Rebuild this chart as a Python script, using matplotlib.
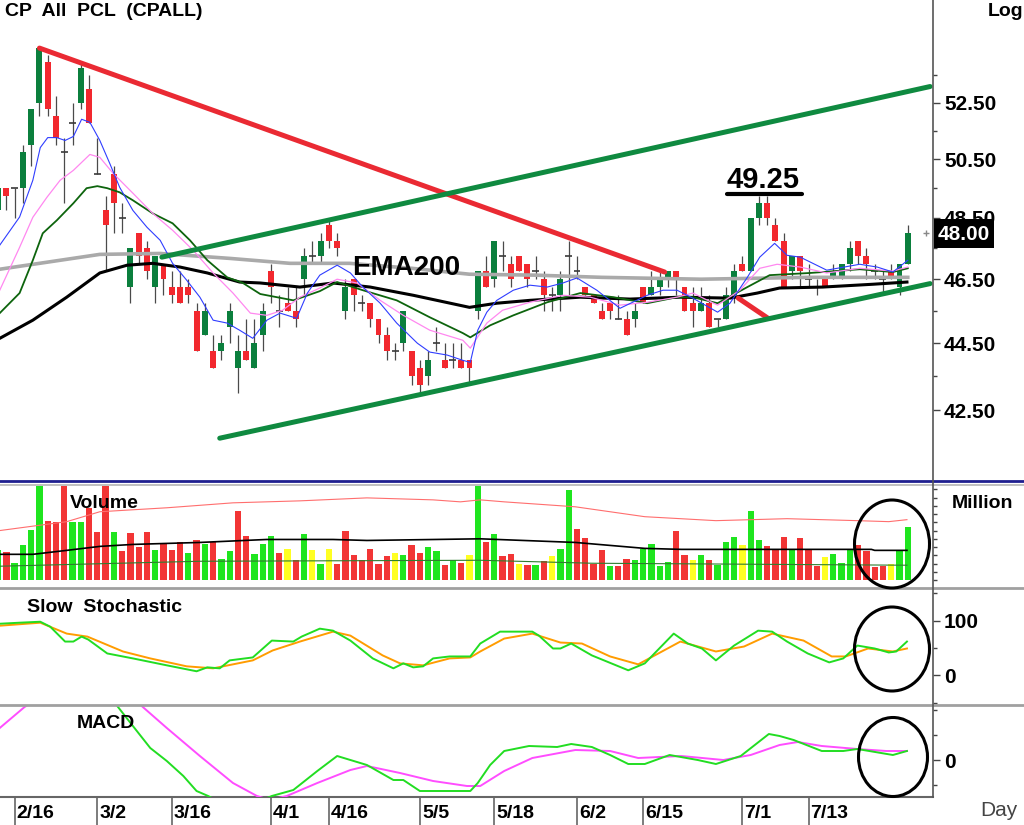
import numpy as np
import matplotlib
matplotlib.use("Agg")
import matplotlib.pyplot as plt
from matplotlib.patches import Ellipse, Rectangle
from matplotlib.lines import Line2D
from matplotlib.transforms import blended_transform_factory
from matplotlib.ticker import FixedLocator, NullFormatter, FuncFormatter

plt.rcParams["font.family"] = ["Liberation Sans", "DejaVu Sans"]
plt.rcParams["font.weight"] = "bold"

# ---- daily candles (bar index 0..110) ----
OPEN = [48.75, 49.50, 49.50, 49.50, 51.00, 52.50, 54.00, 52.00, 50.75, 51.75,
        52.50, 53.00, 50.00, 48.75, 50.00, 48.50, 46.25, 48.00, 47.50, 46.25,
        47.00, 46.25, 46.25, 46.25, 45.50, 44.75, 44.25, 44.25, 45.00, 43.75,
        44.25, 43.75, 44.75, 46.75, 45.50, 45.75, 45.50, 46.50, 47.25, 47.25,
        48.25, 47.75, 45.50, 46.50, 45.75, 45.75, 45.25, 44.75, 44.25, 44.50,
        44.25, 43.75, 43.50, 44.50, 44.00, 44.00, 44.00, 44.00, 45.50, 46.75,
        46.50, 47.25, 47.00, 47.25, 47.00, 46.75, 46.50, 46.00, 46.00, 47.25,
        46.75, 46.25, 46.00, 45.50, 45.75, 45.25, 45.25, 45.25, 46.25, 46.00,
        46.25, 46.50, 46.75, 46.25, 45.75, 45.50, 45.75, 45.25, 45.25, 46.00,
        47.00, 46.75, 48.50, 49.00, 48.25, 47.75, 46.75, 47.25, 46.50, 46.25,
        46.50, 46.50, 46.50, 47.00, 47.75, 47.25, 46.75, 46.50, 46.75, 46.25,
        47.00]
HIGH = [49.50, 49.50, 49.50, 51.00, 52.25, 54.50, 54.25, 52.75, 51.25, 52.50,
        54.00, 53.50, 51.25, 49.25, 50.25, 49.00, 47.50, 48.00, 47.75, 47.25,
        47.00, 46.75, 46.75, 46.50, 45.75, 45.75, 44.75, 44.75, 45.75, 44.75,
        45.25, 45.25, 45.75, 47.00, 46.00, 46.25, 46.25, 47.50, 47.75, 48.00,
        48.50, 48.00, 46.50, 46.50, 46.00, 45.75, 45.25, 45.00, 44.50, 45.50,
        44.25, 44.00, 44.25, 45.00, 44.50, 44.50, 44.50, 44.00, 46.75, 47.25,
        47.75, 47.75, 47.25, 47.25, 47.00, 47.25, 46.75, 46.25, 46.75, 47.75,
        47.25, 46.25, 46.00, 45.75, 45.75, 46.00, 45.50, 45.75, 46.25, 46.75,
        46.75, 46.75, 46.75, 46.25, 46.25, 46.25, 46.00, 45.25, 46.25, 47.00,
        47.25, 48.50, 49.25, 49.25, 48.50, 48.00, 47.25, 47.25, 47.00, 46.50,
        46.50, 47.00, 47.00, 47.75, 47.75, 47.50, 47.00, 46.75, 47.00, 47.00,
        48.25]
LOW = [48.75, 48.75, 48.50, 49.00, 50.25, 52.00, 52.00, 51.00, 49.00, 51.00,
       52.25, 51.75, 50.00, 46.75, 48.00, 48.00, 45.75, 47.00, 46.50, 45.75,
       46.00, 45.75, 45.75, 45.75, 44.25, 44.75, 43.75, 44.00, 44.50, 43.00,
       44.00, 43.75, 44.25, 45.75, 45.00, 45.50, 45.00, 46.00, 47.00, 47.00,
       47.50, 47.25, 45.25, 45.50, 45.50, 45.00, 44.50, 44.00, 44.00, 44.25,
       43.25, 43.00, 43.25, 44.25, 43.75, 43.75, 43.75, 43.25, 45.25, 46.25,
       46.25, 46.75, 46.25, 46.75, 46.25, 46.50, 45.50, 45.50, 45.50, 46.00,
       46.50, 46.00, 45.75, 45.25, 45.25, 45.25, 44.75, 45.00, 45.75, 46.00,
       46.00, 46.25, 46.00, 45.50, 45.00, 45.50, 45.00, 45.00, 45.25, 45.75,
       46.75, 46.75, 48.25, 48.25, 47.75, 46.25, 46.50, 46.25, 46.25, 46.00,
       46.25, 46.50, 46.50, 46.75, 47.00, 46.50, 46.50, 46.00, 46.50, 46.00,
       47.00]
CLOSE = [49.50, 49.25, 49.50, 50.75, 52.25, 54.50, 52.25, 51.25, 50.75, 51.75,
         53.75, 51.75, 50.00, 48.25, 49.00, 48.50, 47.50, 47.25, 46.75, 47.25,
         46.50, 46.00, 45.75, 46.00, 44.25, 45.50, 43.75, 44.50, 45.50, 44.25,
         44.00, 44.50, 45.50, 46.25, 45.50, 45.50, 45.25, 47.25, 47.25, 47.75,
         47.75, 47.50, 46.25, 46.00, 45.75, 45.25, 44.75, 44.25, 44.25, 45.50,
         43.50, 43.25, 44.00, 44.50, 43.75, 44.00, 43.75, 43.75, 46.75, 46.25,
         47.75, 47.25, 46.50, 46.75, 46.50, 46.75, 46.00, 46.00, 46.50, 47.25,
         46.75, 46.00, 45.75, 45.25, 45.50, 45.25, 44.75, 45.50, 45.75, 46.25,
         46.50, 46.75, 46.50, 45.50, 45.50, 45.75, 45.00, 45.25, 46.00, 46.75,
         46.75, 48.50, 49.00, 48.50, 47.75, 46.25, 47.25, 46.75, 46.50, 46.25,
         46.25, 46.75, 47.00, 47.50, 47.25, 47.00, 46.75, 46.50, 46.50, 47.00,
         48.00]

# ---- moving averages (bar index, price) ----
EMA_FAST_X = [0.2, 2.6, 4.2, 5.1, 6.0, 7.1, 8.1, 9.1, 10.1, 11.1, 12.3, 13.5, 14.7,
              16.3, 18.0, 19.6, 21.1, 22.8, 24.4, 26.0, 27.7, 29.2, 30.8, 32.5,
              34.1, 36.1, 37.4, 38.9, 41.0, 42.6, 44.1, 46.2, 48.2, 50.7, 52.2,
              54.3, 56.2, 57.1, 58.0, 59.1, 60.3, 62.3, 64.3, 66.4, 68.3, 70.0,
              72.4, 75.2, 78.5, 80.4, 82.1, 84.0, 87.0, 88.5, 90.6, 92.1, 93.9,
              95.4, 97.0, 100.2, 104.2, 106.3, 108.2, 110.0]
EMA_FAST = [47.60, 48.53, 49.77, 50.90, 51.25, 51.25, 51.15, 51.29, 51.90, 51.79,
            51.15, 50.35, 49.53, 48.75, 48.19, 47.76, 47.01, 46.47, 45.93, 45.21,
            45.12, 44.90, 44.65, 45.21, 45.43, 45.27, 46.06, 46.63, 46.95, 46.70,
            46.25, 45.74, 45.12, 44.50, 44.23, 44.14, 43.98, 43.92, 44.90, 45.46,
            45.83, 46.15, 46.31, 46.25, 46.38, 46.54, 46.15, 45.58, 45.99, 46.15,
            46.15, 45.90, 45.46, 45.74, 46.56, 47.21, 47.66, 47.27, 47.21, 46.79,
            46.98, 46.89, 46.73, 47.11]
EMA_MID_X = [0.2, 2.6, 4.2, 5.9, 7.5, 9.1, 11.1, 12.3, 13.9, 16.3, 18.7, 21.1, 23.6,
             26.0, 28.4, 30.5, 32.5, 34.4, 36.5, 38.9, 41.0, 43.4, 46.2, 49.0, 52.2,
             56.2, 57.1, 59.1, 61.0, 64.3, 68.3, 71.6, 75.2, 78.5, 82.1, 84.0, 87.0,
             89.7, 92.1, 94.2, 97.0, 100.2, 104.2, 108.2, 110.0]
EMA_MID = [46.15, 47.53, 48.52, 49.19, 49.77, 50.11, 50.66, 50.56, 50.01, 49.33,
           48.65, 48.09, 47.43, 46.70, 46.06, 45.43, 45.36, 45.52, 45.93, 46.22,
           46.50, 46.38, 45.83, 45.36, 44.90, 44.59, 44.35, 45.12, 45.52, 45.77,
           45.99, 45.93, 45.68, 45.77, 45.93, 46.06, 45.68, 46.15, 46.85, 46.98,
           46.89, 46.70, 46.85, 46.76, 46.89]
EMA_SLOW_X = [0.2, 2.6, 4.2, 5.4, 7.1, 9.1, 10.7, 12.0, 13.2, 14.7, 16.3, 18.7, 21.1,
              23.2, 25.3, 27.7, 29.6, 31.7, 35.7, 38.9, 41.0, 44.1, 48.2, 52.2, 56.2,
              57.1, 59.5, 62.3, 66.4, 70.4, 74.4, 78.5, 82.1, 84.0, 87.0, 90.6, 93.3,
              98.2, 104.2, 108.2, 110.0]
EMA_SLOW = [45.43, 46.06, 47.11, 47.99, 48.42, 48.99, 49.50, 49.57, 49.50, 49.36,
            49.09, 48.65, 48.32, 47.76, 47.11, 46.56, 46.38, 46.03, 45.83, 46.12,
            46.41, 46.15, 45.83, 45.30, 44.81, 44.68, 45.05, 45.36, 45.77, 46.06,
            45.93, 45.74, 45.93, 45.93, 45.74, 46.25, 46.63, 46.70, 46.82, 46.73,
            46.85]
EMA_LONG_X = [0.2, 4.2, 8.3, 12.3, 15.6, 18.7, 22.0, 25.3, 29.2, 31.7, 36.5, 40.5,
              45.0, 50.2, 57.0, 60.3, 64.3, 70.4, 76.4, 82.5, 88.5, 91.8, 94.5, 99.7,
              105.8, 109.9]
EMA_LONG = [44.65, 45.21, 45.93, 46.70, 46.95, 47.01, 46.89, 46.70, 46.41, 46.38,
            46.25, 46.38, 46.25, 45.99, 45.61, 45.74, 45.83, 45.93, 45.87, 45.93,
            45.90, 46.06, 46.22, 46.25, 46.34, 46.41]
EMA200_X = [0.2, 12.3, 19.6, 28.0, 35.3, 42.5, 50.0, 57.0, 65.0, 73.0, 85.0, 98.0, 110.0]
EMA200 = [46.82, 47.30, 47.33, 47.17, 47.01, 47.01, 46.85, 46.66, 46.63, 46.56,
          46.50, 46.56, 46.56]

# ---- hand-drawn trend lines (bar index, price) ----
RED_TREND = [(5.0, 54.50), (80.6, 46.73)]
RED_TREND_2 = [(89.5, 45.90), (93.1, 45.27)]
GREEN_UPPER = [(19.8, 47.21), (112.7, 53.08)]
GREEN_LOWER = [(26.8, 41.69), (112.7, 46.36)]

# ---- volume (million) ----
VOLUME = [9.0, 8.5, 5.3, 10.5, 15.3, 31.0, 18.0, 17.7, 30.0, 17.5,
          17.5, 21.7, 14.7, 29.0, 14.7, 8.7, 14.2, 10.0, 14.7, 9.0,
          11.0, 9.2, 11.5, 8.3, 12.0, 11.0, 11.5, 6.5, 8.7, 20.8,
          13.5, 8.0, 11.0, 13.3, 8.3, 9.5, 6.0, 14.0, 9.0, 5.0,
          9.5, 5.0, 15.0, 7.5, 6.0, 9.5, 5.0, 7.3, 8.3, 7.7,
          10.5, 8.3, 10.0, 8.7, 4.5, 6.0, 5.3, 7.5, 30.0, 11.5,
          14.0, 7.3, 8.0, 4.8, 4.5, 4.5, 5.7, 7.3, 9.5, 27.2,
          15.5, 12.7, 5.0, 9.0, 4.3, 4.3, 6.5, 6.0, 9.3, 10.8,
          4.3, 5.5, 15.0, 7.7, 6.0, 7.7, 6.2, 4.5, 11.5, 13.0,
          10.5, 20.8, 12.2, 10.3, 9.0, 13.0, 9.0, 12.7, 9.0, 4.3,
          7.0, 8.0, 5.3, 9.0, 10.7, 8.7, 4.0, 4.3, 5.0, 8.7, 16.0]
VOL_DIR = ("grggggrrrg" "grrrgrrrrg" "rrrgrgrggr" "rgggryrgyg" "yrrrrrrryg"
           "rrggrgrygr" "grryrgrygg" "rrrrgrrggg" "ggrrygrggg" "yggrrrgrrr"
           "ygggrrrrygg")
VOL_HI_X = [0.2, 8.3, 12.3, 20.4, 28.4, 36.5, 44.6, 52.6, 55.9, 58.3, 61.2, 69.8,
            78.2, 86.8, 95.4, 103.9, 107.7, 109.9]
VOL_HI = [15.0, 17.7, 20.7, 21.9, 23.4, 24.0, 24.9, 24.3, 23.7, 24.3, 23.7, 22.2,
          19.2, 18.0, 18.6, 18.0, 17.7, 18.3]
VOL_AVG_X = [0.2, 4.2, 8.3, 12.3, 16.3, 24.4, 32.5, 40.5, 44.6, 58.3, 69.8, 78.2,
             82.6, 105.6, 106.0, 109.9]
VOL_AVG = [7.8, 7.8, 9.0, 10.2, 10.8, 11.4, 12.3, 12.3, 12.0, 12.5, 11.4, 9.6,
           9.3, 9.3, 9.0, 9.0]
VOL_LO_X = [0.2, 24.4, 58.3, 71.8, 109.9]
VOL_LO = [4.2, 5.7, 6.0, 5.1, 4.5]

# ---- slow stochastic ----
STO_K_X = [0.2, 2.6, 5.1, 6.3, 8.1, 9.1, 10.1, 10.9, 13.2, 16.3, 20.4, 24.0, 25.3,
           26.8, 28.0, 30.8, 33.1, 35.7, 36.7, 38.9, 40.5, 42.6, 45.3, 47.8, 49.0,
           50.2, 51.4, 52.6, 54.6, 57.1, 58.3, 60.7, 64.6, 65.4, 67.1, 68.0, 69.3,
           71.8, 76.2, 78.2, 81.7, 83.4, 85.1, 86.8, 89.0, 91.9, 93.6, 95.4, 97.9,
           100.5, 102.2, 103.9, 106.0, 107.7, 108.6, 109.9]
STO_K = [94.5, 96.4, 98.2, 89.1, 61.8, 61.8, 70.9, 65.5, 40.0, 30.9, 18.2, 7.3, 14.5,
         12.7, 27.3, 32.7, 63.6, 61.8, 70.9, 85.5, 81.8, 63.6, 30.9, 12.7, 21.8,
         14.5, 16.4, 30.9, 34.5, 34.5, 58.2, 80.0, 80.0, 72.7, 49.1, 49.1, 58.2,
         36.4, 9.1, 21.8, 76.4, 58.2, 49.1, 27.3, 54.5, 81.8, 80.0, 61.8, 40.0,
         23.6, 30.9, 54.5, 49.1, 41.8, 43.6, 61.8]
STO_D_X = [0.2, 5.1, 8.3, 10.8, 15.1, 18.4, 22.8, 26.0, 30.8, 33.2, 36.5, 40.5, 42.6,
           46.5, 48.6, 51.4, 54.6, 57.1, 58.3, 61.2, 64.6, 68.0, 70.6, 74.0, 77.4,
           82.5, 86.8, 90.2, 93.6, 97.4, 100.8, 102.5, 105.2, 108.2, 109.9]
STO_D = [90.9, 96.4, 76.4, 70.9, 43.6, 30.9, 16.4, 12.7, 27.3, 45.5, 61.8, 80.0, 72.7,
         36.4, 21.8, 18.2, 30.9, 32.7, 43.6, 67.3, 76.4, 60.0, 58.2, 34.5, 20.0,
         61.8, 43.6, 52.7, 76.4, 63.6, 34.5, 34.5, 49.1, 43.6, 49.1]

# ---- MACD ----
MACD_X = [0.2, 5.1, 9.9, 12.3, 14.5, 16.3, 18.4, 20.4, 22.4, 24.0, 25.4, 28.0, 30.5,
          33.1, 35.7, 38.6, 41.0, 44.6, 47.8, 49.0, 51.0, 57.1, 58.0, 59.5, 61.2,
          64.2, 67.6, 69.3, 71.8, 74.0, 76.2, 78.2, 81.2, 84.6, 86.8, 89.8, 93.2,
          94.5, 96.2, 99.6, 102.2, 103.9, 108.2, 109.9]
MACD = [1.3, 1.8, 1.9, 1.5, 1.06, 0.68, 0.24, -0.02, -0.32, -0.62, -0.72, -0.95, -0.9,
        -0.72, -0.60, -0.22, 0.08, -0.10, -0.40, -0.40, -0.62, -0.62, -0.46, -0.10, 0.18,
        0.28, 0.26, 0.32, 0.26, 0.10, -0.08, -0.08, 0.10, 0.0, -0.08, 0.08, 0.52,
        0.48, 0.40, 0.18, 0.18, 0.22, 0.10, 0.18]
SIGNAL_X = [0.2, 3.2, 7.5, 12.3, 15.9, 17.5, 20.4, 24.4, 28.4, 31.3, 32.9, 34.9, 38.6,
            42.6, 44.6, 48.6, 52.6, 56.7, 58.3, 61.2, 64.6, 69.8, 74.0, 77.4, 82.6,
            87.7, 91.0, 94.5, 96.7, 99.6, 103.9, 107.4, 109.9]
SIGNAL = [0.64, 1.06, 1.5, 1.6, 1.3, 1.06, 0.64, 0.08, -0.46, -0.72, -0.8, -0.72, -0.46,
          -0.20, -0.12, -0.26, -0.42, -0.52, -0.52, -0.22, 0.04, 0.20, 0.18, 0.04, 0.08,
          0.0, 0.10, 0.30, 0.36, 0.28, 0.22, 0.18, 0.18]

# ---- axis labels ----
DATE_IDX = [2, 12, 21, 33, 40, 51, 60, 70, 78, 90, 98]
DATE_LABELS = ["2/16", "3/2", "3/16", "4/1", "4/16", "5/5", "5/18", "6/2", "6/15", "7/1", "7/13"]
PRICE_TICKS = [42.5, 44.5, 46.5, 48.5, 50.5, 52.5]
PRICE_MINOR = [43.5, 45.5, 47.5, 49.5, 51.5, 53.5]
LAST_PRICE = 48.00

# ---------------------------------------------------------------
W, H = 1024, 825
X_RIGHT = 933          # pixel x of the right axis line


def fx(px):
    return px / W


def fy(py):
    return 1 - py / H


fig = plt.figure(figsize=(W / 100, H / 100), dpi=100)
fig.patch.set_facecolor("white")


def panel(top, bottom, **kw):
    ax = fig.add_axes([0, fy(bottom), fx(X_RIGHT), (bottom - top) / H], **kw)
    for s in ax.spines.values():
        s.set_visible(False)
    ax.yaxis.tick_right()
    ax.tick_params(axis="x", which="both", bottom=False, labelbottom=False)
    ax.tick_params(axis="y", which="both", direction="out", color="#444",
                   width=1, labelsize=15, pad=3)
    ax.tick_params(axis="y", which="major", length=5)
    ax.tick_params(axis="y", which="minor", length=3)
    ax.set_facecolor("white")
    return ax


ax_p = panel(0, 480)
ax_v = panel(486, 587, sharex=ax_p)
ax_s = panel(590, 703, sharex=ax_p)
ax_m = panel(706, 797, sharex=ax_p)
ax_p.set_xlim(0.23, 113.05)

# ---- price panel ----
ax_p.set_yscale("log")
ax_p.set_ylim(40.51, 56.33)
ax_p.yaxis.set_major_locator(FixedLocator(PRICE_TICKS))
ax_p.yaxis.set_major_formatter(FuncFormatter(lambda v, _: f"{v:.2f}"))
ax_p.yaxis.set_minor_locator(FixedLocator(PRICE_MINOR))
ax_p.yaxis.set_minor_formatter(NullFormatter())

idx = np.arange(len(CLOSE))
o, h, l, c = (np.array(a) for a in (OPEN, HIGH, LOW, CLOSE))
up, dn, eq = c > o, c < o, c == o
ax_p.vlines(idx, l, h, color="#4a4a4a", lw=0.9, zorder=2)
ax_p.bar(idx[up], (c - o)[up], bottom=o[up], width=0.72, color="#0b7f3d", lw=0, zorder=3)
ax_p.bar(idx[dn], (o - c)[dn], bottom=c[dn], width=0.72, color="#f2282e", lw=0, zorder=3)
ax_p.hlines(c[eq], idx[eq] - 0.42, idx[eq] + 0.42, color="#3a3a3a", lw=1.2, zorder=3)

ax_p.plot(EMA200_X, EMA200, color="#aaaaaa", lw=2.6, zorder=4)
ax_p.plot(EMA_LONG_X, EMA_LONG, color="black", lw=2.2, zorder=4)
ax_p.plot(EMA_SLOW_X, EMA_SLOW, color="#0d640d", lw=1.3, zorder=4)
ax_p.plot(EMA_MID_X, EMA_MID, color="#ff88f0", lw=0.9, zorder=4)
ax_p.plot(EMA_FAST_X, EMA_FAST, color="#2f3dff", lw=0.8, zorder=4)

for seg, col in ((RED_TREND, "#ea2a33"), (RED_TREND_2, "#ea2a33"),
                 (GREEN_UPPER, "#0f8a40"), (GREEN_LOWER, "#0f8a40")):
    xs, ys = zip(*seg)
    ax_p.plot(xs, ys, color=col, lw=3.6, solid_capstyle="round", zorder=5)

ax_p.text(42.8, 46.85, "EMA200", fontsize=20, ha="left", va="center", zorder=6)
ax_p.text(92.5, 49.50, "49.25", fontsize=21, ha="center", va="baseline", zorder=6)
ax_p.plot([88.1, 97.2], [49.3, 49.3], color="black", lw=3, solid_capstyle="round", zorder=6)
ax_p.plot([112.2], [LAST_PRICE], marker="+", color="#888", ms=4, zorder=6)

# ---- volume panel ----
vol_colors = {"g": "#1fe51f", "r": "#f23535", "y": "#ffff22"}
ax_v.set_ylim(-2.1, 28.5)
ax_v.bar(idx, VOLUME, width=0.76, color=[vol_colors[d] for d in VOL_DIR], lw=0, zorder=2)
ax_v.plot(VOL_HI_X, VOL_HI, color="#ff6e6e", lw=0.8, zorder=3)
ax_v.plot(VOL_AVG_X, VOL_AVG, color="black", lw=1.2, zorder=3)
ax_v.plot(VOL_LO_X, VOL_LO, color="#2e7d2e", lw=0.8, zorder=3)
ax_v.yaxis.set_major_locator(FixedLocator(np.arange(0, 28, 2.5)))
ax_v.yaxis.set_major_formatter(NullFormatter())
ax_v.tick_params(axis="y", which="major", length=3)

# ---- stochastic panel ----
ax_s.set_ylim(-50.9, 156.4)
ax_s.yaxis.set_major_locator(FixedLocator([0, 100]))
ax_s.yaxis.set_major_formatter(FuncFormatter(lambda v, _: f"{v:.0f}"))
ax_s.yaxis.set_minor_locator(FixedLocator([-50, 50, 150]))
ax_s.plot(STO_D_X, STO_D, color="#ff9c00", lw=1.4, zorder=3)
ax_s.plot(STO_K_X, STO_K, color="#22dd22", lw=1.4, zorder=4)

# ---- MACD panel ----
ax_m.set_ylim(-0.74, 1.08)
ax_m.yaxis.set_major_locator(FixedLocator([0]))
ax_m.yaxis.set_major_formatter(FuncFormatter(lambda v, _: "0"))
ax_m.yaxis.set_minor_locator(FixedLocator([-0.5, 0.5, 1.0]))
ax_m.plot(SIGNAL_X, SIGNAL, color="#ff4dff", lw=1.4, zorder=3)
ax_m.plot(MACD_X, MACD, color="#22dd22", lw=1.4, zorder=4)

ax_m.spines["bottom"].set_visible(True)
ax_m.spines["bottom"].set_color("#666")
ax_m.spines["bottom"].set_linewidth(1.5)
ax_m.set_xticks(DATE_IDX)
ax_m.tick_params(axis="x", which="major", bottom=True, length=20, width=1.2,
                 color="#666", direction="out", labelbottom=False)
blend = blended_transform_factory(ax_m.transData, fig.transFigure)
for t, lab in zip(DATE_IDX, DATE_LABELS):
    ax_m.text(t + 0.25, fy(813), lab, transform=blend, fontsize=14,
              ha="left", va="center", clip_on=False)

# ---- frame lines ----
for py, col, lw in ((481, "#1f1f8f", 2.0), (484.5, "#b5b5b5", 1.2),
                    (588, "#a0a0a0", 2.0), (704.5, "#a0a0a0", 2.0)):
    fig.add_artist(Line2D([0, 1], [fy(py), fy(py)], transform=fig.transFigure,
                          color=col, lw=lw))
fig.add_artist(Line2D([fx(X_RIGHT), fx(X_RIGHT)], [fy(0), fy(797)],
                      transform=fig.transFigure, color="#555", lw=1.2))

# ---- last price tag ----
fig.add_artist(Rectangle((fx(934), fy(248)), 60 / W, 29 / H, transform=fig.transFigure,
                         facecolor="black", edgecolor="none", zorder=10))
fig.text(fx(964), fy(234), f"{LAST_PRICE:.2f}", color="white", fontsize=15,
         ha="center", va="center", zorder=11)

# ---- circles drawn by the analyst ----
for cx, cy, ew, eh in ((892, 544, 75, 88), (892, 649, 75, 84), (893, 757, 69, 79)):
    fig.add_artist(Ellipse((fx(cx), fy(cy)), ew / W, eh / H, transform=fig.transFigure,
                           fill=False, edgecolor="black", lw=2.2, zorder=12))

# ---- titles ----
fig.text(fx(5), fy(12), "CP  All  PCL  (CPALL)", fontsize=14, va="center")
fig.text(fx(988), fy(12), "Log", fontsize=14, va="center")
fig.text(fx(70), fy(503), "Volume", fontsize=14, va="center", zorder=8)
fig.text(fx(952), fy(503), "Million", fontsize=14, va="center")
fig.text(fx(27), fy(607), "Slow  Stochastic", fontsize=14, va="center")
fig.text(fx(77), fy(724), "MACD", fontsize=14, va="center")
fig.text(fx(980), fy(811), "Day", fontsize=15, va="center", fontweight="normal", color="#444")

fig.savefig("out.png", dpi=100, facecolor="white")
